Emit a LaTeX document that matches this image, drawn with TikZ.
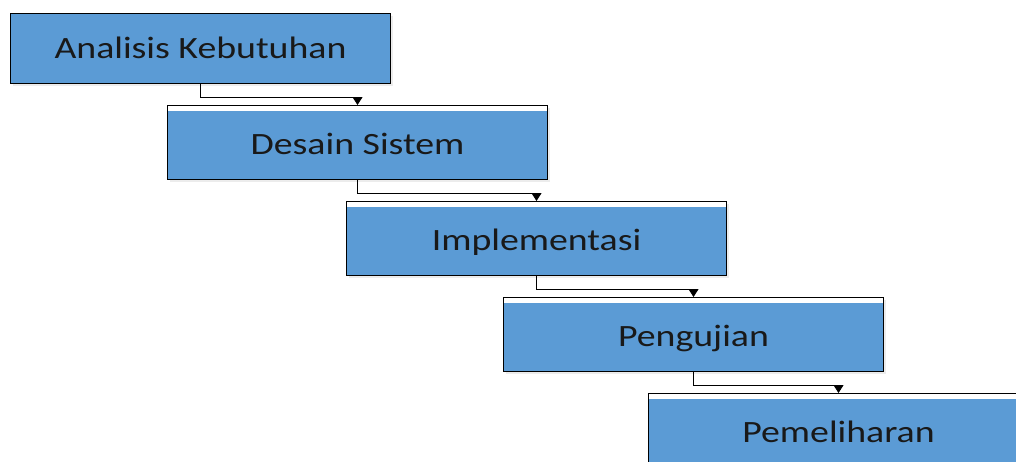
\documentclass[tikz,border=0pt]{standalone}
\usepackage{fontspec}
\setmainfont{Carlito}
\usetikzlibrary{arrows.meta,shadows}
\definecolor{boxblue}{HTML}{5B9BD5}
\newcommand{\wtxt}[1]{\scalebox{1.22}[1]{#1}}
\tikzset{
  stage/.style={draw=black, line width=1pt, fill=boxblue, minimum width=380pt, minimum height=74pt,
    inner sep=0pt, text height=49pt, text depth=25pt, font=\fontsize{31}{36}\selectfont, text=black!90,
    drop shadow={opacity=0.15, shadow xshift=2pt, shadow yshift=-2pt}},
  strip/.style={path picture={\fill[white] ([yshift=-0.5pt]path picture bounding box.north west) rectangle ([yshift=-5pt]path picture bounding box.north east);}},
  conn/.style={draw=black, line width=0.9pt, -{Triangle[width=10pt,length=8pt]}}
}
\begin{document}
\begin{tikzpicture}[x=1pt,y=-1pt]
\useasboundingbox (0,0) rectangle (1016,461);
\clip (0,0) rectangle (1016,461);
\node[stage, minimum height=70pt, text height=45pt, anchor=north west] (b1) at (10,13) {\wtxt{Analisis Kebutuhan}};
\node[stage, strip, anchor=north west] (b2) at (167,105) {\wtxt{Desain Sistem}};
\node[stage, strip, anchor=north west] (b3) at (346,201) {\wtxt{Implementasi}};
\node[stage, strip, anchor=north west] (b4) at (503,297) {\wtxt{Pengujian}};
\node[stage, strip, anchor=north west] (b5) at (648,393) {\wtxt{Pemeliharan}};
\draw[conn] (b1.south) -- ++(0,13) -| (b2.north);
\draw[conn] (b2.south) -- ++(0,13) -| (b3.north);
\draw[conn] (b3.south) -- ++(0,13) -| (b4.north);
\draw[conn] (b4.south) -- ++(0,13) -| (b5.north);
\end{tikzpicture}
\end{document}
